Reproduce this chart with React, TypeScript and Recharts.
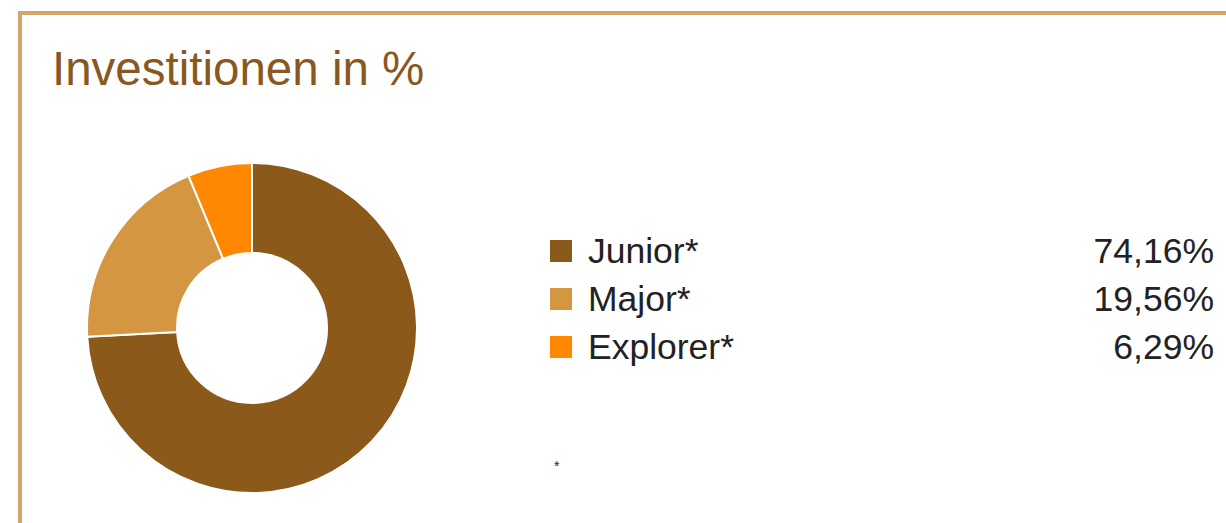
import { PieChart, Pie, Cell, Legend } from 'recharts';

const categories = ['Junior*', 'Major*', 'Explorer*'];
const shares = [74.16, 19.56, 6.29];
const colors = ['#8B5A1B', '#D49640', '#FF8800'];

const data = categories.map((name, i) => ({ name, value: shares[i] }));

const fmt = (v: number) => `${v.toFixed(2).replace('.', ',')}%`;

function LegendTable() {
  return (
    <div style={{ width: 664, fontFamily: '"Liberation Sans", Arial, sans-serif' }}>
      {data.map((d, i) => (
        <div key={d.name} style={{ display: 'flex', alignItems: 'center', height: 48 }}>
          <span style={{ width: 22, height: 22, background: colors[i], display: 'inline-block', marginRight: 16 }} />
          <span style={{ fontSize: 35.5, color: '#222', flex: 1 }}>{d.name}</span>
          <span style={{ fontSize: 35.5, color: '#222' }}>{fmt(d.value)}</span>
        </div>
      ))}
    </div>
  );
}

export default function App() {
  return (
    <div style={{ position: 'absolute', top: 0, left: 0, width: 1226, height: 523, background: '#fff', overflow: 'hidden' }}>
      <div
        style={{
          position: 'absolute',
          left: 18,
          top: 11,
          width: 1240,
          height: 560,
          border: '4px solid #D4A46A',
          boxSizing: 'border-box',
        }}
      />
      <div
        style={{
          position: 'absolute',
          left: 52,
          top: 42,
          fontSize: 47.5,
          color: '#8A581F',
          fontFamily: '"Liberation Sans", Arial, sans-serif',
          lineHeight: '54px',
        }}
      >
        Investitionen in %
      </div>
      <div style={{ position: 'absolute', left: 0, top: 0 }}>
        <PieChart width={1226} height={523} margin={{ top: 0, right: 0, bottom: 0, left: 0 }}>
          <Pie
            data={data}
            dataKey="value"
            nameKey="name"
            cx={252}
            cy={328}
            outerRadius={165}
            innerRadius={75}
            startAngle={90}
            endAngle={-270}
            stroke="#fff"
            strokeWidth={2}
            isAnimationActive={false}
          >
            {data.map((d, i) => (
              <Cell key={d.name} fill={colors[i]} />
            ))}
          </Pie>
          <Legend
            content={() => <LegendTable />}
            layout="vertical"
            wrapperStyle={{ position: 'absolute', left: 550, top: 227, width: 664 }}
          />
        </PieChart>
      </div>
      <div
        style={{
          position: 'absolute',
          left: 554,
          top: 458,
          fontSize: 14,
          color: '#222',
          fontFamily: '"Liberation Sans", Arial, sans-serif',
        }}
      >
        *
      </div>
    </div>
  );
}
